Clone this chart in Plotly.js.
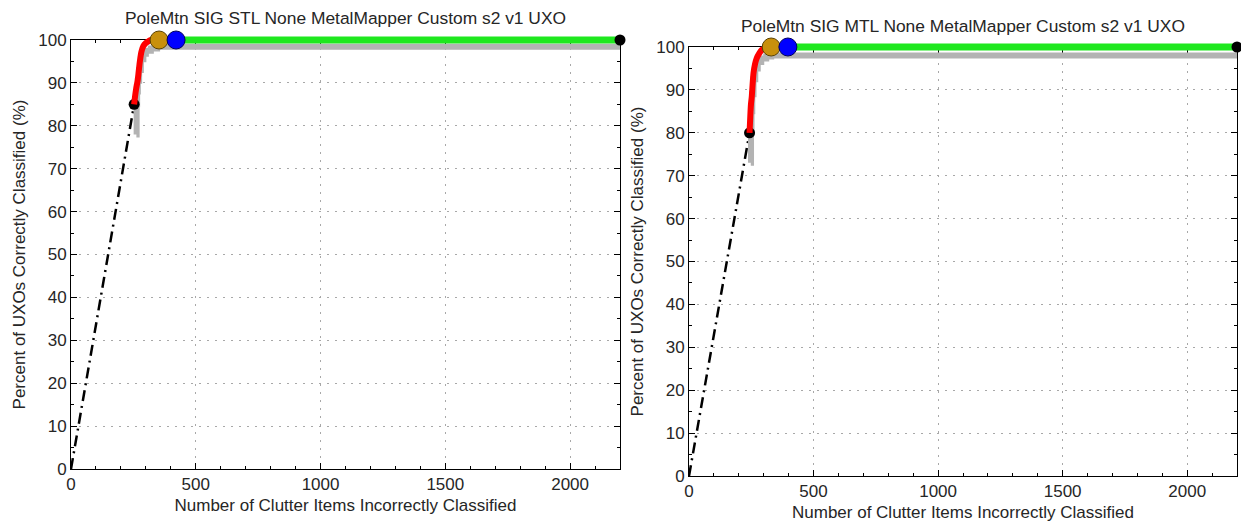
<!DOCTYPE html>
<html>
<head>
<meta charset="utf-8">
<script src="https://cdn.plot.ly/plotly-3.0.1.min.js"></script>
<style>html,body{margin:0;padding:0;background:#fff;}#chart{width:1241px;height:523px;}</style>
</head>
<body>
<div id="chart"></div>
<script>
// ---------------- data ----------------
const chartTitles = [
  "PoleMtn SIG STL None MetalMapper Custom s2 v1 UXO",
  "PoleMtn SIG MTL None MetalMapper Custom s2 v1 UXO"
];
const xAxisTitle = "Number of Clutter Items Incorrectly Classified";
const yAxisTitle = "Percent of UXOs Correctly Classified (%)";
const xTickVals = [0, 500, 1000, 1500, 2000];
const yTickVals = [0, 10, 20, 30, 40, 50, 60, 70, 80, 90, 100];
const xMax = 2200;
const yMax = 100;

// left panel (STL)
const leftDashX = [0, 253];
const leftDashY = [0, 85];
const leftGrayX = [262, 263, 265, 268, 273, 280, 290, 300, 320, 345, 2200];
const leftGrayY = [78, 85, 88, 90.5, 93, 95.5, 96.8, 97.5, 98, 98.4, 98.4];
const leftRedX = [253, 257, 261, 264, 267, 271, 276, 282, 290, 300, 310, 320, 353];
const leftRedY = [85, 87, 88.6, 89.6, 90.5, 92.5, 95, 97.2, 98.6, 99.3, 99.7, 100, 100];
const leftGreenX = [353, 2200];
const leftGreenY = [100, 100];
const leftStart = [253, 85];
const leftOrange = [353, 100];
const leftBlue = [421, 100];
const leftEnd = [2200, 100];

// right panel (MTL)
const rightDashX = [0, 243];
const rightDashY = [0, 80];
const rightGrayX = [248, 249, 251, 254, 259, 266, 276, 290, 310, 330, 2200];
const rightGrayY = [73, 80, 85, 89, 92.5, 95, 96.5, 97.3, 97.8, 98, 98];
const rightRedX = [243, 245, 247, 249, 252, 255, 259, 265, 272, 282, 292, 305, 312, 330];
const rightRedY = [80, 82.5, 85, 86.8, 88.4, 91, 93.9, 96, 97.4, 98.5, 99.3, 99.8, 100, 100];
const rightGreenX = [330, 2200];
const rightGreenY = [100, 100];
const rightStart = [243, 80];
const rightOrange = [330, 100];
const rightBlue = [397, 100];
const rightEnd = [2200, 100];

// ---------------- layout geometry (pixels) ----------------
const W = 1241, H = 523;
const panels = [
  {l: 71, r: 620, t: 40, b: 469},
  {l: 689, r: 1237, t: 47, b: 476}
];
const pad = 14; // extra px around the data layer so thick lines are not clipped

const FONT = "Liberation Sans, Arial, sans-serif";
const TXT = "#262626";
const GRID = {showgrid: true, gridcolor: "#a8a8a8", griddash: "2px,6px", gridwidth: 1};

function mainX(p) {
  return Object.assign({
    domain: [p.l / W, p.r / W], range: [0, xMax],
    tickvals: xTickVals, ticks: "inside", ticklen: 6, tickcolor: "#000",
    showline: true, linecolor: "#000", linewidth: 1, mirror: "ticks",
    zeroline: false, fixedrange: true,
    minor: {dtick: 100, tick0: 0, ticks: "inside", ticklen: 3, tickcolor: "#000", showgrid: false},
    tickfont: {family: FONT, size: 17, color: TXT},
    title: {text: xAxisTitle, font: {family: FONT, size: 17, color: TXT}, standoff: 5},
    automargin: false
  }, GRID);
}
function mainY(p) {
  return Object.assign({
    domain: [(H - p.b) / H, (H - p.t) / H], range: [0, yMax],
    tickvals: yTickVals, ticks: "inside", ticklen: 6, tickcolor: "#000",
    showline: true, linecolor: "#000", linewidth: 1, mirror: "ticks",
    zeroline: false, fixedrange: true,
    minor: {dtick: 5, tick0: 0, ticks: "inside", ticklen: 3, tickcolor: "#000", showgrid: false},
    tickfont: {family: FONT, size: 17, color: TXT},
    title: {text: yAxisTitle, font: {family: FONT, size: 17, color: TXT}, standoff: 8},
    automargin: false
  }, GRID);
}
function dataX(p) {
  const k = (p.r - p.l) / xMax;
  const pl = Math.min(pad, p.l), pr = Math.min(pad, W - p.r);
  return {domain: [(p.l - pl) / W, (p.r + pr) / W], range: [-pl / k, xMax + pr / k],
          visible: false, fixedrange: true};
}
function dataY(p) {
  const k = (p.b - p.t) / yMax;
  const pb = Math.min(pad, H - p.b), pt = Math.min(pad, p.t);
  return {domain: [(H - p.b - pb) / H, (H - p.t + pt) / H], range: [-pb / k, yMax + pt / k],
          visible: false, fixedrange: true};
}

const layout = {
  width: W, height: H, autosize: false,
  margin: {l: 0, r: 0, t: 0, b: 0, pad: 0},
  paper_bgcolor: "#fff", plot_bgcolor: "rgba(0,0,0,0)",
  showlegend: false,
  font: {family: FONT, color: TXT},
  xaxis: Object.assign(mainX(panels[0]), {anchor: "y"}),
  yaxis: Object.assign(mainY(panels[0]), {anchor: "x"}),
  xaxis2: Object.assign(mainX(panels[1]), {anchor: "y2"}),
  yaxis2: Object.assign(mainY(panels[1]), {anchor: "x2"}),
  xaxis3: Object.assign(dataX(panels[0]), {anchor: "y3"}),
  yaxis3: Object.assign(dataY(panels[0]), {anchor: "x3"}),
  xaxis4: Object.assign(dataX(panels[1]), {anchor: "y4"}),
  yaxis4: Object.assign(dataY(panels[1]), {anchor: "x4"}),
  annotations: [
    {text: chartTitles[0], xref: "paper", yref: "paper", x: 345 / W, y: 1 - 18 / H,
     xanchor: "center", yanchor: "middle", showarrow: false, font: {family: FONT, size: 17.4, color: TXT}},
    {text: chartTitles[1], xref: "paper", yref: "paper", x: 963 / W, y: 1 - 26 / H,
     xanchor: "center", yanchor: "middle", showarrow: false, font: {family: FONT, size: 17.4, color: TXT}}
  ]
};

function panelTraces(xm, ym, xa, ya, d) {
  return [
    // dash-dot line lives on the visible axes so the subplot frame is drawn
    {x: d.dashX, y: d.dashY, xaxis: xm, yaxis: ym, mode: "lines", hoverinfo: "skip",
     line: {color: "#000", width: 2.5, dash: "11px,5px,2px,5px"}},
    {x: d.grayX, y: d.grayY, xaxis: xa, yaxis: ya, mode: "lines", hoverinfo: "skip",
     line: {color: "#b3b3b3", width: 6, shape: "hv"}},
    {x: [d.start[0]], y: [d.start[1]], xaxis: xa, yaxis: ya, mode: "markers", cliponaxis: false,
     marker: {color: "#000", size: 11, line: {width: 0}}},
    {x: d.redX, y: d.redY, xaxis: xa, yaxis: ya, mode: "lines", hoverinfo: "skip",
     line: {color: "#ff0000", width: 6, shape: "spline", smoothing: 0.6}},
    {x: d.greenX, y: d.greenY, xaxis: xa, yaxis: ya, mode: "lines", hoverinfo: "skip",
     line: {color: "#1fe81f", width: 7}},
    {x: [d.orange[0]], y: [d.orange[1]], xaxis: xa, yaxis: ya, mode: "markers", cliponaxis: false,
     marker: {color: "#c8900c", size: 18, line: {color: "#5a4200", width: 1}}},
    {x: [d.blue[0]], y: [d.blue[1]], xaxis: xa, yaxis: ya, mode: "markers", cliponaxis: false,
     marker: {color: "#0000ff", size: 18, line: {color: "#00005a", width: 1}}},
    {x: [d.end[0]], y: [d.end[1]], xaxis: xa, yaxis: ya, mode: "markers", cliponaxis: false,
     marker: {color: "#000", size: 11, line: {width: 0}}}
  ];
}

const data = [].concat(
  panelTraces("x", "y", "x3", "y3", {dashX: leftDashX, dashY: leftDashY, grayX: leftGrayX, grayY: leftGrayY,
    redX: leftRedX, redY: leftRedY, greenX: leftGreenX, greenY: leftGreenY,
    start: leftStart, orange: leftOrange, blue: leftBlue, end: leftEnd}),
  panelTraces("x2", "y2", "x4", "y4", {dashX: rightDashX, dashY: rightDashY, grayX: rightGrayX, grayY: rightGrayY,
    redX: rightRedX, redY: rightRedY, greenX: rightGreenX, greenY: rightGreenY,
    start: rightStart, orange: rightOrange, blue: rightBlue, end: rightEnd})
);

Plotly.newPlot("chart", data, layout, {staticPlot: true, displayModeBar: false});
</script>
</body>
</html>
